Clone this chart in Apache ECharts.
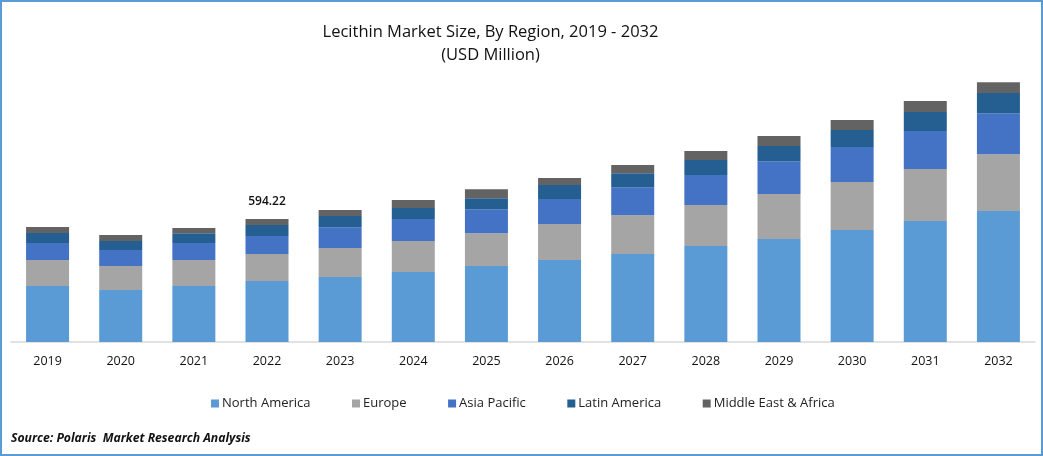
<!DOCTYPE html>
<html><head><meta charset="utf-8">
<style>html,body{margin:0;padding:0;background:#fff}
#c{width:1043px;height:456px;box-sizing:border-box;position:relative}
#f{position:absolute;left:0;top:0;width:1043px;height:456px;box-sizing:border-box;border:2px solid #5b9bd5;pointer-events:none}</style>
<script src="https://cdn.jsdelivr.net/npm/echarts@6/dist/echarts.min.js"></script>
</head><body><div id="c"></div><div id="f"></div>
<script>
const years=['2019','2020','2021','2022','2023','2024','2025','2026','2027','2028','2029','2030','2031','2032'];
const northAmerica=[271,251,271,295,314,338,367,396,425,464,498,541,585,633];
const europe=[125,116,125,130,140,150,159,174,188,198,217,232,251,275];
const asiaPacific=[82,78,82,87,101,106,116,121,135,145,159,169,184,198];
const latinAmerica=[49,43,48,53,54,54,53,68,68,73,73,83,92,97];
const middleEastAfrica=[29,29,25,29.22,29,38,43,34,39,43,49,48,53,53];
const names=['North America','Europe','Asia Pacific','Latin America','Middle East & Africa'];
const colors=['#5b9bd5','#a5a5a5','#4472c4','#255e91','#636363'];
const values=[northAmerica,europe,asiaPacific,latinAmerica,middleEastAfrica];
const font='"Open Sans"';
const chart=echarts.init(document.getElementById('c'),null,{renderer:'canvas'});
chart.setOption({
  animation:false,
  backgroundColor:'#fff',
  title:[
    {text:'Lecithin Market Size, By Region, 2019 - 2032',left:490.5,top:24,textAlign:'center',padding:0,
     textStyle:{fontFamily:font,fontSize:16.5,fontWeight:'normal',color:'#111'}},
    {text:'(USD Million)',left:490.5,top:47,textAlign:'center',padding:0,
     textStyle:{fontFamily:font,fontSize:16.5,fontWeight:'normal',color:'#111'}},
    {text:'Source: Polaris  Market Research Analysis',left:11,top:433,padding:0,
     textStyle:{fontFamily:font,fontSize:12.2,fontWeight:'bold',fontStyle:'italic',color:'#111'}}
  ],
  legend:{data:names,top:392,left:206,itemWidth:8,itemHeight:8,itemGap:41.5,icon:'rect',
    textStyle:{fontFamily:font,fontSize:13,color:'#222',padding:[0,0,0,-2]}},
  grid:{left:11,right:8,top:42,height:300,containLabel:false},
  xAxis:{type:'category',data:years,axisTick:{show:false},
    axisLine:{lineStyle:{color:'#d9d9d9',width:1.5}},
    axisLabel:{fontFamily:font,fontSize:12.5,color:'#111',margin:13}},
  yAxis:{type:'value',min:0,max:1450,show:false,splitLine:{show:false}},
  series:names.map((n,i)=>({
    name:n,type:'bar',stack:'t',barWidth:43,
    itemStyle:{color:colors[i]},
    data:values[i].map((v,j)=>(i===4&&j===3)?{value:v,label:{show:true,position:'top',distance:11,formatter:'594.22',
      fontFamily:font,fontSize:12,fontWeight:600,color:'#111'}}:v)
  }))
});
</script></body></html>
